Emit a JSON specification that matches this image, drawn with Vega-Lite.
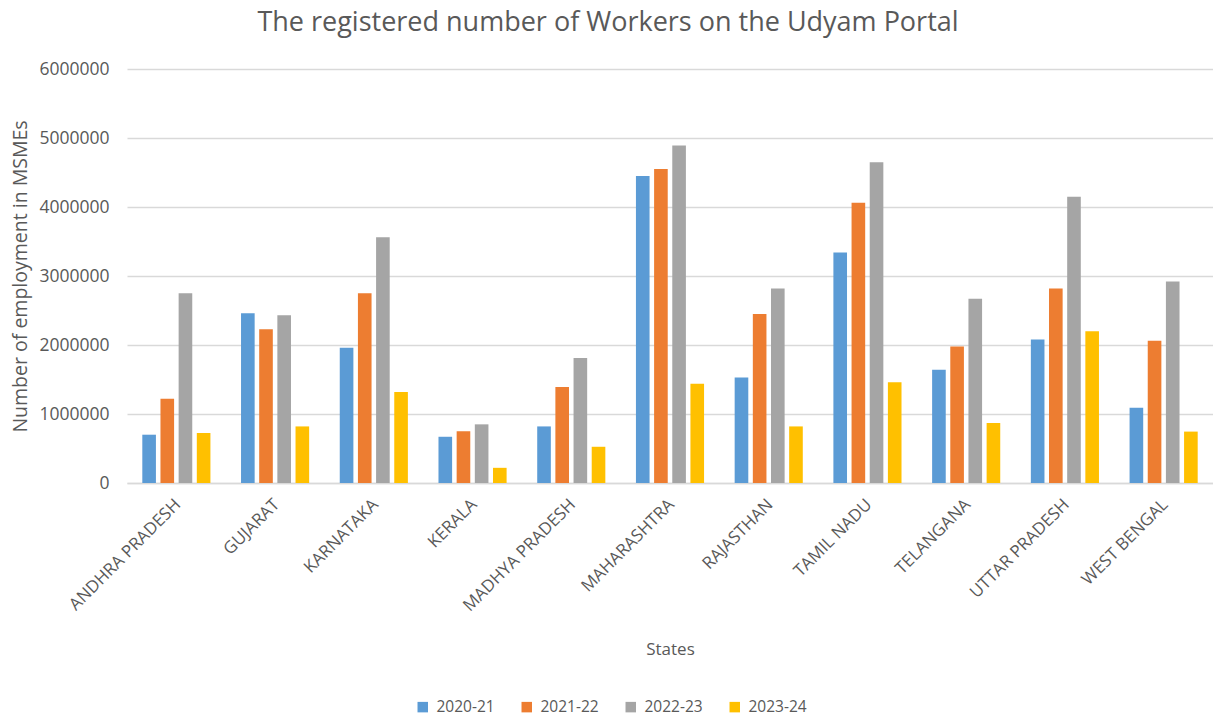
{
  "$schema": "https://vega.github.io/schema/vega-lite/v6.json",
  "width": 1086,
  "height": 414,
  "autosize": {"type": "none"},
  "padding": {"left": 127, "top": 69, "right": 0, "bottom": 234},
  "background": "white",
  "title": {
    "text": "The registered number of Workers on the Udyam Portal",
    "font": "Open Sans",
    "fontSize": 27,
    "fontWeight": "normal",
    "color": "#595959",
    "anchor": "middle",
    "dx": -62,
    "offset": 23
  },
  "data": {
    "values": [
      {"state": "ANDHRA PRADESH", "year": "2020-21", "value": 700000},
      {"state": "ANDHRA PRADESH", "year": "2021-22", "value": 1220000},
      {"state": "ANDHRA PRADESH", "year": "2022-23", "value": 2750000},
      {"state": "ANDHRA PRADESH", "year": "2023-24", "value": 725000},
      {"state": "GUJARAT", "year": "2020-21", "value": 2460000},
      {"state": "GUJARAT", "year": "2021-22", "value": 2230000},
      {"state": "GUJARAT", "year": "2022-23", "value": 2430000},
      {"state": "GUJARAT", "year": "2023-24", "value": 820000},
      {"state": "KARNATAKA", "year": "2020-21", "value": 1960000},
      {"state": "KARNATAKA", "year": "2021-22", "value": 2750000},
      {"state": "KARNATAKA", "year": "2022-23", "value": 3560000},
      {"state": "KARNATAKA", "year": "2023-24", "value": 1320000},
      {"state": "KERALA", "year": "2020-21", "value": 670000},
      {"state": "KERALA", "year": "2021-22", "value": 750000},
      {"state": "KERALA", "year": "2022-23", "value": 850000},
      {"state": "KERALA", "year": "2023-24", "value": 220000},
      {"state": "MADHYA PRADESH", "year": "2020-21", "value": 820000},
      {"state": "MADHYA PRADESH", "year": "2021-22", "value": 1390000},
      {"state": "MADHYA PRADESH", "year": "2022-23", "value": 1810000},
      {"state": "MADHYA PRADESH", "year": "2023-24", "value": 525000},
      {"state": "MAHARASHTRA", "year": "2020-21", "value": 4450000},
      {"state": "MAHARASHTRA", "year": "2021-22", "value": 4550000},
      {"state": "MAHARASHTRA", "year": "2022-23", "value": 4890000},
      {"state": "MAHARASHTRA", "year": "2023-24", "value": 1440000},
      {"state": "RAJASTHAN", "year": "2020-21", "value": 1530000},
      {"state": "RAJASTHAN", "year": "2021-22", "value": 2450000},
      {"state": "RAJASTHAN", "year": "2022-23", "value": 2820000},
      {"state": "RAJASTHAN", "year": "2023-24", "value": 820000},
      {"state": "TAMIL NADU", "year": "2020-21", "value": 3340000},
      {"state": "TAMIL NADU", "year": "2021-22", "value": 4060000},
      {"state": "TAMIL NADU", "year": "2022-23", "value": 4650000},
      {"state": "TAMIL NADU", "year": "2023-24", "value": 1460000},
      {"state": "TELANGANA", "year": "2020-21", "value": 1640000},
      {"state": "TELANGANA", "year": "2021-22", "value": 1980000},
      {"state": "TELANGANA", "year": "2022-23", "value": 2670000},
      {"state": "TELANGANA", "year": "2023-24", "value": 870000},
      {"state": "UTTAR PRADESH", "year": "2020-21", "value": 2080000},
      {"state": "UTTAR PRADESH", "year": "2021-22", "value": 2820000},
      {"state": "UTTAR PRADESH", "year": "2022-23", "value": 4150000},
      {"state": "UTTAR PRADESH", "year": "2023-24", "value": 2200000},
      {"state": "WEST BENGAL", "year": "2020-21", "value": 1090000},
      {"state": "WEST BENGAL", "year": "2021-22", "value": 2060000},
      {"state": "WEST BENGAL", "year": "2022-23", "value": 2920000},
      {"state": "WEST BENGAL", "year": "2023-24", "value": 745000}
    ]
  },
  "mark": {"type": "bar"},
  "encoding": {
    "x": {
      "field": "state",
      "type": "nominal",
      "sort": null,
      "scale": {"paddingInner": 0.31, "paddingOuter": 0.155},
      "axis": {
        "title": "States",
        "titleFont": "Open Sans",
        "titleFontSize": 17,
        "titleFontWeight": "normal",
        "titleColor": "#595959",
        "titlePadding": 28,
        "labelAngle": -45,
        "labelFont": "Open Sans",
        "labelFontSize": 17,
        "labelColor": "#595959",
        "labelPadding": 13,
        "labelOffset": -4,
        "labelLimit": 300,
        "ticks": false,
        "domainColor": "#D9D9D9",
        "domainWidth": 1.5
      }
    },
    "xOffset": {
      "field": "year",
      "type": "nominal",
      "scale": {"paddingInner": 0.25}
    },
    "y": {
      "field": "value",
      "type": "quantitative",
      "scale": {"domain": [0, 6000000]},
      "axis": {
        "title": "Number of employment in MSMEs",
        "titleFont": "Open Sans",
        "titleFontSize": 19.5,
        "titleFontWeight": "normal",
        "titleColor": "#595959",
        "titlePadding": 8,
        "values": [0, 1000000, 2000000, 3000000, 4000000, 5000000, 6000000],
        "format": "d",
        "labelFont": "Open Sans",
        "labelFontSize": 17.5,
        "labelColor": "#595959",
        "labelPadding": 18,
        "ticks": false,
        "domain": false,
        "grid": true,
        "gridColor": "#D9D9D9",
        "gridWidth": 1.5
      }
    },
    "color": {
      "field": "year",
      "type": "nominal",
      "scale": {
        "domain": ["2020-21", "2021-22", "2022-23", "2023-24"],
        "range": ["#5B9BD5", "#ED7D31", "#A5A5A5", "#FFC000"]
      },
      "legend": {
        "title": null,
        "orient": "none",
        "direction": "horizontal",
        "legendX": 288,
        "legendY": 630,
        "symbolType": "square",
        "symbolSize": 110,
        "symbolStrokeWidth": 0,
        "labelFont": "Open Sans",
        "labelFontSize": 15.5,
        "labelColor": "#595959",
        "labelOffset": 6,
        "columnPadding": 24,
        "padding": 0
      }
    }
  },
  "config": {"view": {"stroke": null}}
}
